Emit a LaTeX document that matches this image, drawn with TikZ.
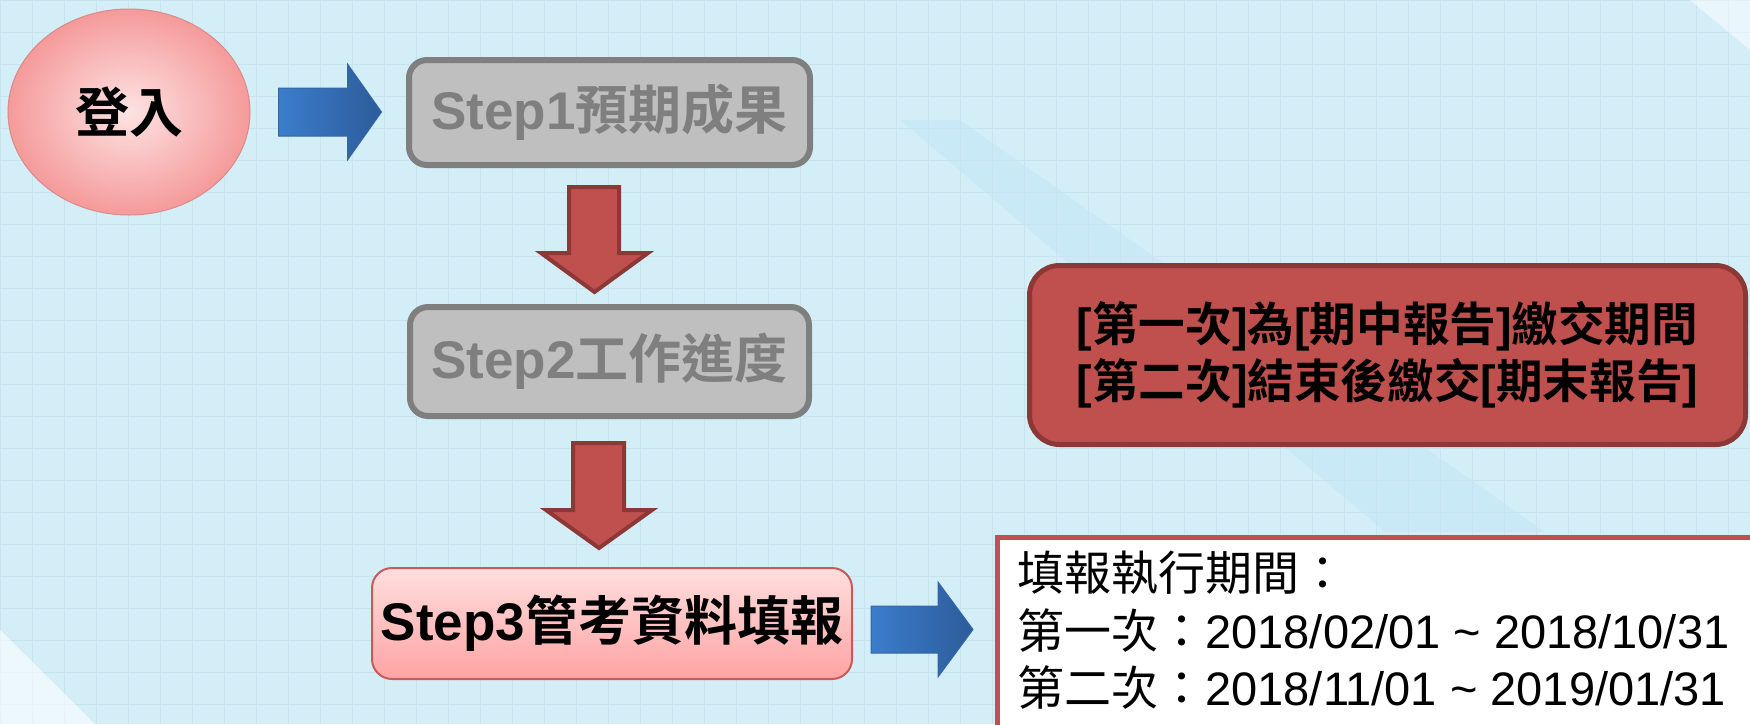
\documentclass[tikz,border=0pt]{standalone}
\usepackage{fontspec}
\setmainfont{Liberation Sans}
\newfontfamily\cjk{Noto Sans CJK TC}[BoldFont={Noto Sans CJK TC Bold}]
\newcommand\cjt[1]{{\cjk #1}}
\usetikzlibrary{calc,shapes.geometric}
\definecolor{bgblue}{HTML}{D4EEF8}
\definecolor{gridc}{HTML}{C7E3EF}
\definecolor{bandc}{HTML}{B5E0F3}
\definecolor{stepfill}{HTML}{BFBFBF}
\definecolor{stepline}{HTML}{7F7F7F}
\definecolor{redfill}{HTML}{C0504D}
\definecolor{redline}{HTML}{8C3836}
\definecolor{pinktop}{HTML}{FFDEDE}
\definecolor{pinkbot}{HTML}{FFA3A3}
\definecolor{pinkline}{HTML}{C85A5A}
\definecolor{blueL}{HTML}{3B7DCC}
\definecolor{blueR}{HTML}{2C5C9A}
\definecolor{bluebd}{HTML}{3566A6}
\definecolor{ellin}{HTML}{FDE3E3}
\definecolor{ellout}{HTML}{F59A9A}
\definecolor{ellbd}{HTML}{D98A8A}
\begin{document}
\begin{tikzpicture}[x=0.5pt,y=-0.5pt,
  gridline/.style={draw=gridc, line width=0.5pt},
  stepbox/.style={draw=stepline, line width=3pt, fill=stepfill, rounded corners=9pt,
    text=stepline, inner sep=0pt, font=\bfseries\fontsize{26.5}{30}\selectfont},
  activebox/.style={draw=pinkline, line width=1pt, top color=pinktop, bottom color=pinkbot,
    rounded corners=10pt, inner sep=0pt, font=\bfseries\fontsize{26.5}{30}\selectfont},
  loginball/.style={ellipse, draw=ellbd, line width=0.5pt, inner color=ellin, outer color=ellout,
    inner sep=0pt, font=\bfseries\fontsize{27}{30}\selectfont},
  notebox/.style={draw=redline, line width=2.5pt, fill=redfill, rounded corners=15pt,
    inner sep=0pt, align=center, font=\bfseries\fontsize{23.3}{28.5}\selectfont},
  datebox/.style={draw=redfill, line width=2.5pt, fill=white, inner sep=0pt},
  datetext/.style={inner sep=0pt, align=left, font=\fontsize{23.5}{28.75}\selectfont},
  bluearrow/.style={draw=bluebd, line width=0.5pt, left color=blueL, right color=blueR},
  redarrow/.style={draw=redline, line width=2pt, fill=redfill}
]
\useasboundingbox (0,0) rectangle (1750,724);
\clip (0,0) rectangle (1750,724);
% background
\fill[bgblue] (0,0) rectangle (1750,724);
\fill[bandc, opacity=0.3] (900,120) -- (960,120) -- (1545,532) -- (1385,532) -- cycle;
\foreach \gx in {0,32,...,1750} \draw[gridline] (\gx,0) -- (\gx,724);
\foreach \gy in {0,32,...,724} \draw[gridline] (0,\gy) -- (1750,\gy);
\fill[white, opacity=0.6] (0,630) -- (95,724) -- (0,724) -- cycle;
\fill[white, opacity=0.5] (1690,0) -- (1750,0) -- (1750,50) -- cycle;

% nodes
\node[loginball, minimum width=121pt, minimum height=103pt] (login) at (129,112) {\cjt{登入}};
\node[stepbox, minimum width=200.5pt, minimum height=52.5pt] (s1) at (609.5,112.5) {Step1\cjt{預期成果}};
\node[stepbox, minimum width=199.5pt, minimum height=54.5pt] (s2) at (609.5,361.5) {Step2\cjt{工作進度}};
\node[activebox, minimum width=240pt, minimum height=55.5pt] (s3) at (612,623.5) {Step3\cjt{管考資料填報}};
\node[notebox, minimum width=358pt, minimum height=89.5pt] (note) at (1387.5,355)
  {{[}\cjt{第一次}]\cjt{為}[\cjt{期中報告}]\cjt{繳交期間}\\{[}\cjt{第二次}]\cjt{結束後繳交}[\cjt{期末報告}]};
\node[datebox, anchor=north west, minimum width=400pt, minimum height=120pt] (dates) at (994.5,534.5) {};
\node[datetext, anchor=west] (datestxt) at (1017,630.5)
  {\cjt{填報執行期間：}\\\cjt{第一次：}2018/02/01 \textasciitilde{} 2018/10/31\\\cjt{第二次：}2018/11/01 \textasciitilde{} 2019/01/31};

% block arrows between nodes
\draw[bluearrow] ($(login.east)+(28,-24)$) -- ++(69,0) -- ++(0,-24) -- ++(34,48) -- ++(-34,48) -- ++(0,-24) -- ++(-69,0) -- cycle;
\draw[redarrow] ($(s1.south)+(-40.5,19)$) -- ++(50,0) -- ++(0,66) -- ++(29,0) -- ++(-53.5,39) -- ++(-53.5,-39) -- ++(28,0) -- cycle;
\draw[redarrow] ($(s2.south)+(-36.5,24)$) -- ++(51,0) -- ++(0,67) -- ++(28,0) -- ++(-53,38) -- ++(-53,-38) -- ++(27,0) -- cycle;
\draw[bluearrow] ($(s3.east)+(18,-17.5)$) -- ++(67,0) -- ++(0,-24) -- ++(35,47.5) -- ++(-35,47.5) -- ++(0,-24) -- ++(-67,0) -- cycle;
\end{tikzpicture}
\end{document}
